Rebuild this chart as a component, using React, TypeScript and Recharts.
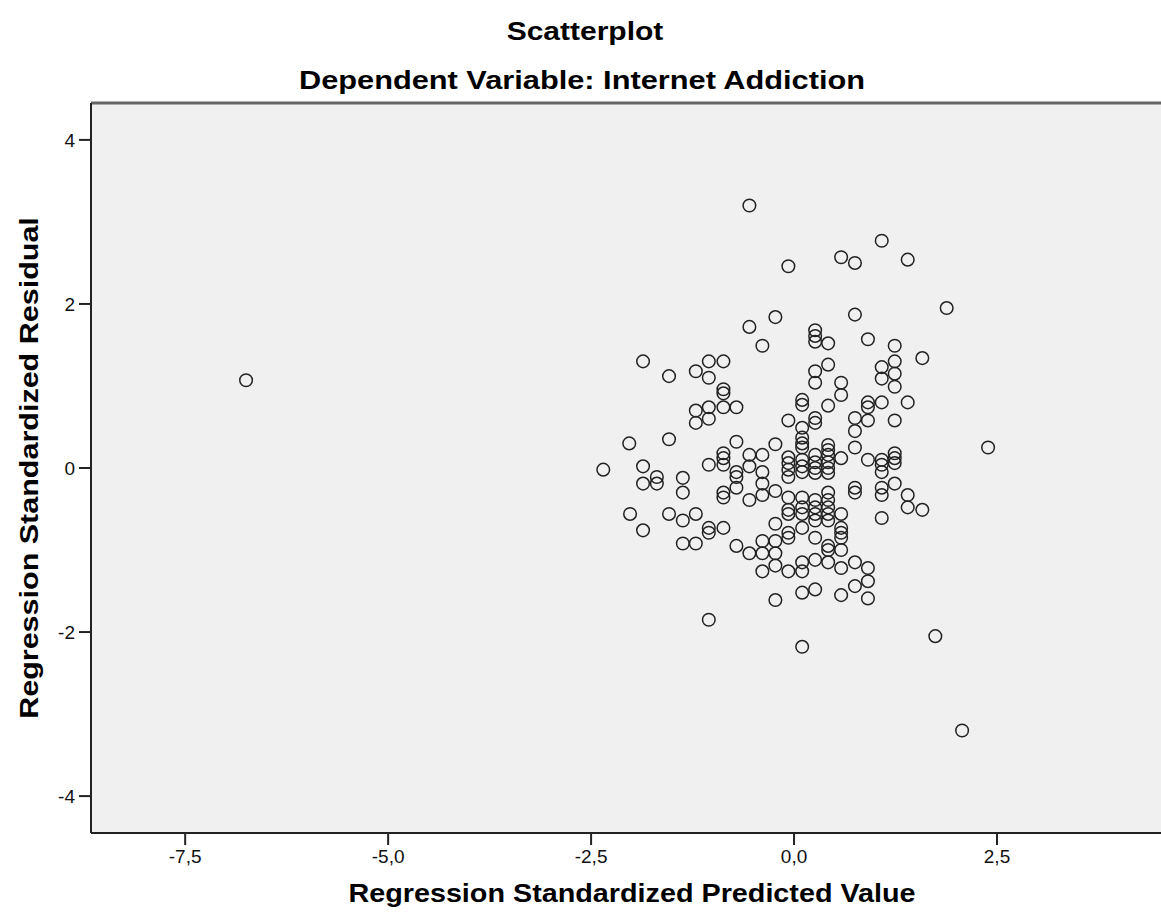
import { ScatterChart, Scatter, XAxis, YAxis, CartesianGrid, ReferenceLine } from 'recharts';

// Regression Standardized Predicted Value (x) vs Regression Standardized Residual (y)
const upperPoints: Array<[number, number]> = [
  [-6.75, 1.07], [-0.55, 3.2], [-0.07, 2.46], [0.58, 2.57], [0.75, 2.5], [1.08, 2.77],
  [1.4, 2.54], [1.88, 1.95], [-0.23, 1.84], [-0.55, 1.72], [-0.39, 1.49], [0.26, 1.68],
  [0.26, 1.61], [0.26, 1.54], [0.42, 1.52], [0.75, 1.87], [0.91, 1.57], [1.24, 1.49],
  [-1.86, 1.3], [-1.05, 1.3], [-0.87, 1.3], [0.42, 1.26], [1.24, 1.3], [1.58, 1.34],
];

const middleUpperPoints: Array<[number, number]> = [
  [-1.54, 1.12], [-1.21, 1.18], [-1.05, 1.1], [-0.87, 0.96], [-0.87, 0.91], [-1.21, 0.7],
  [-1.05, 0.74], [-0.87, 0.74], [-0.71, 0.74], [-1.21, 0.55], [-1.05, 0.6], [-2.03, 0.3],
  [-1.54, 0.35], [-0.71, 0.32], [-0.23, 0.29], [-0.07, 0.58], [0.1, 0.83], [0.1, 0.77],
  [0.1, 0.49], [0.1, 0.37], [0.1, 0.3], [0.1, 0.25], [1.08, 1.23], [1.08, 1.09],
  [1.24, 1.15], [1.24, 0.99], [0.26, 1.18], [0.26, 1.04], [0.58, 1.04], [0.58, 0.89],
  [0.42, 0.76], [0.91, 0.8], [0.91, 0.74], [0.91, 0.58], [1.08, 0.8], [1.4, 0.8],
  [0.26, 0.61], [0.26, 0.55], [0.75, 0.61], [0.75, 0.45], [1.24, 0.58], [0.75, 0.25],
  [2.39, 0.25],
];

const centerPoints: Array<[number, number]> = [
  [0.42, 0.28], [0.42, 0.22], [0.42, 0.16], [0.42, 0.07], [0.42, 0.0], [0.42, -0.06],
  [0.26, 0.16], [0.26, 0.07], [0.26, 0.0], [0.26, -0.06], [0.58, 0.12], [0.91, 0.1],
  [1.08, 0.1], [1.08, 0.04], [1.08, -0.05], [1.24, 0.18], [1.24, 0.12], [1.24, 0.06],
  [-2.35, -0.02], [-1.86, 0.02], [-1.69, -0.11], [-1.37, -0.12], [-1.05, 0.04],
  [-0.87, 0.18], [-0.87, 0.12], [-0.87, 0.04], [-0.71, -0.05], [-0.71, -0.11],
  [-0.55, 0.16], [-0.55, 0.02], [-0.39, 0.16], [-0.39, -0.05], [-0.07, 0.13],
  [-0.07, 0.06], [-0.07, -0.02], [0.1, 0.1], [0.1, 0.02], [0.1, -0.05],
];

const lowerPoints: Array<[number, number]> = [
  [-1.86, -0.19], [-1.69, -0.19], [-1.37, -0.3], [-0.87, -0.3], [-0.87, -0.36], [-0.71, -0.24],
  [-0.55, -0.39], [-0.39, -0.19], [-0.39, -0.33], [-0.23, -0.28], [-0.07, -0.11], [-0.07, -0.36],
  [-0.07, -0.51], [-0.07, -0.56], [-0.07, -0.79], [-0.07, -0.85], [0.1, -0.36], [0.1, -0.48],
  [0.1, -0.56], [0.1, -0.73], [0.1, -1.15], [0.1, -1.26], [-2.02, -0.56], [-1.86, -0.76],
  [-1.54, -0.56], [-1.37, -0.64], [-1.21, -0.56], [-1.05, -0.73], [-1.05, -0.79], [-0.87, -0.73],
  [-1.37, -0.92], [-1.21, -0.92], [-0.71, -0.95], [-0.55, -1.04], [-0.39, -0.89], [-0.39, -1.04],
  [-0.23, -0.68], [-0.23, -0.89], [-0.23, -1.04], [-0.23, -1.19], [-0.39, -1.26], [-0.07, -1.26],
  [0.75, -0.24], [0.75, -0.3], [1.08, -0.24], [1.08, -0.33], [1.24, -0.19], [1.4, -0.33],
  [1.4, -0.48], [1.58, -0.51], [1.08, -0.61], [0.26, -0.39], [0.26, -0.48], [0.26, -0.56],
  [0.26, -0.64], [0.26, -0.85], [0.42, -0.3], [0.42, -0.39], [0.42, -0.48], [0.42, -0.56],
  [0.42, -0.64], [0.42, -0.95], [0.42, -1.0], [0.58, -0.56], [0.58, -0.73], [0.58, -0.79],
  [0.58, -0.85], [0.58, -1.0], [0.26, -1.12], [0.42, -1.15], [0.58, -1.22], [0.75, -1.15],
  [0.91, -1.22], [0.91, -1.38], [0.75, -1.44], [0.26, -1.48], [0.1, -1.52], [0.58, -1.55],
  [0.91, -1.59], [-0.23, -1.61], [-1.05, -1.85], [0.1, -2.18], [1.74, -2.05], [2.07, -3.2],
];

const xTicks = [-7.5, -5, -2.5, 0, 2.5];
const yTicks = [-4, -2, 0, 2, 4];
const xDomain: [number, number] = [-8.66, 4.52];
const yDomain: [number, number] = [-4.45, 4.45];

const chartData = [...upperPoints, ...middleUpperPoints, ...centerPoints, ...lowerPoints].map(
  ([x, y]) => ({ x, y })
);

const font = '"Liberation Sans", Arial, sans-serif';

const OpenCircle = (props: any) => {
  const { cx, cy } = props;
  return <circle cx={cx} cy={cy} r={6.3} fill="none" stroke="#222" strokeWidth={1.5} />;
};

const titleStyle = {
  position: 'absolute' as const,
  whiteSpace: 'nowrap' as const,
  fontSize: 25,
  fontWeight: 'bold' as const,
  color: '#000',
  lineHeight: '30px',
};

export default function App() {
  return (
    <div
      style={{
        position: 'absolute',
        left: 0,
        top: 0,
        width: 1161,
        height: 920,
        background: '#fff',
        fontFamily: font,
        overflow: 'hidden',
      }}
    >
      <div style={{ ...titleStyle, left: 585, top: 31, transform: 'translate(-50%, -50%) scaleX(1.2)' }}>
        Scatterplot
      </div>
      <div style={{ ...titleStyle, left: 582, top: 80, transform: 'translate(-50%, -50%) scaleX(1.23)' }}>
        Dependent Variable: Internet Addiction
      </div>

      <ScatterChart width={1161} height={920} margin={{ top: 103, right: 0, bottom: 0, left: 0 }}>
        <CartesianGrid horizontal={false} vertical={false} fill="#f0f0f0" />
        <XAxis
          type="number"
          dataKey="x"
          domain={xDomain}
          ticks={xTicks}
          allowDataOverflow
          height={87}
          tickSize={12}
          tickMargin={5}
          axisLine={{ stroke: '#222', strokeWidth: 2 }}
          tickLine={{ stroke: '#222', strokeWidth: 2 }}
          tick={{ fill: '#111', fontSize: 19, fontFamily: font }}
          tickFormatter={(v: number) => v.toFixed(1).replace('.', ',')}
        />
        <YAxis
          type="number"
          dataKey="y"
          domain={yDomain}
          ticks={yTicks}
          allowDataOverflow
          width={91}
          tickSize={12}
          tickMargin={4}
          axisLine={{ stroke: '#222', strokeWidth: 2 }}
          tickLine={{ stroke: '#222', strokeWidth: 2 }}
          tick={{ fill: '#111', fontSize: 19, fontFamily: font }}
        />
        <ReferenceLine y={yDomain[1]} stroke="#666" strokeWidth={3} />
        <Scatter data={chartData} shape={OpenCircle} isAnimationActive={false} />
      </ScatterChart>

      <div style={{ ...titleStyle, left: 632, top: 893, transform: 'translate(-50%, -50%) scaleX(1.15)' }}>
        Regression Standardized Predicted Value
      </div>
      <div
        style={{
          ...titleStyle,
          left: 29,
          top: 468,
          transform: 'translate(-50%, -50%) rotate(-90deg) scaleX(1.22)',
        }}
      >
        Regression Standardized Residual
      </div>
    </div>
  );
}
